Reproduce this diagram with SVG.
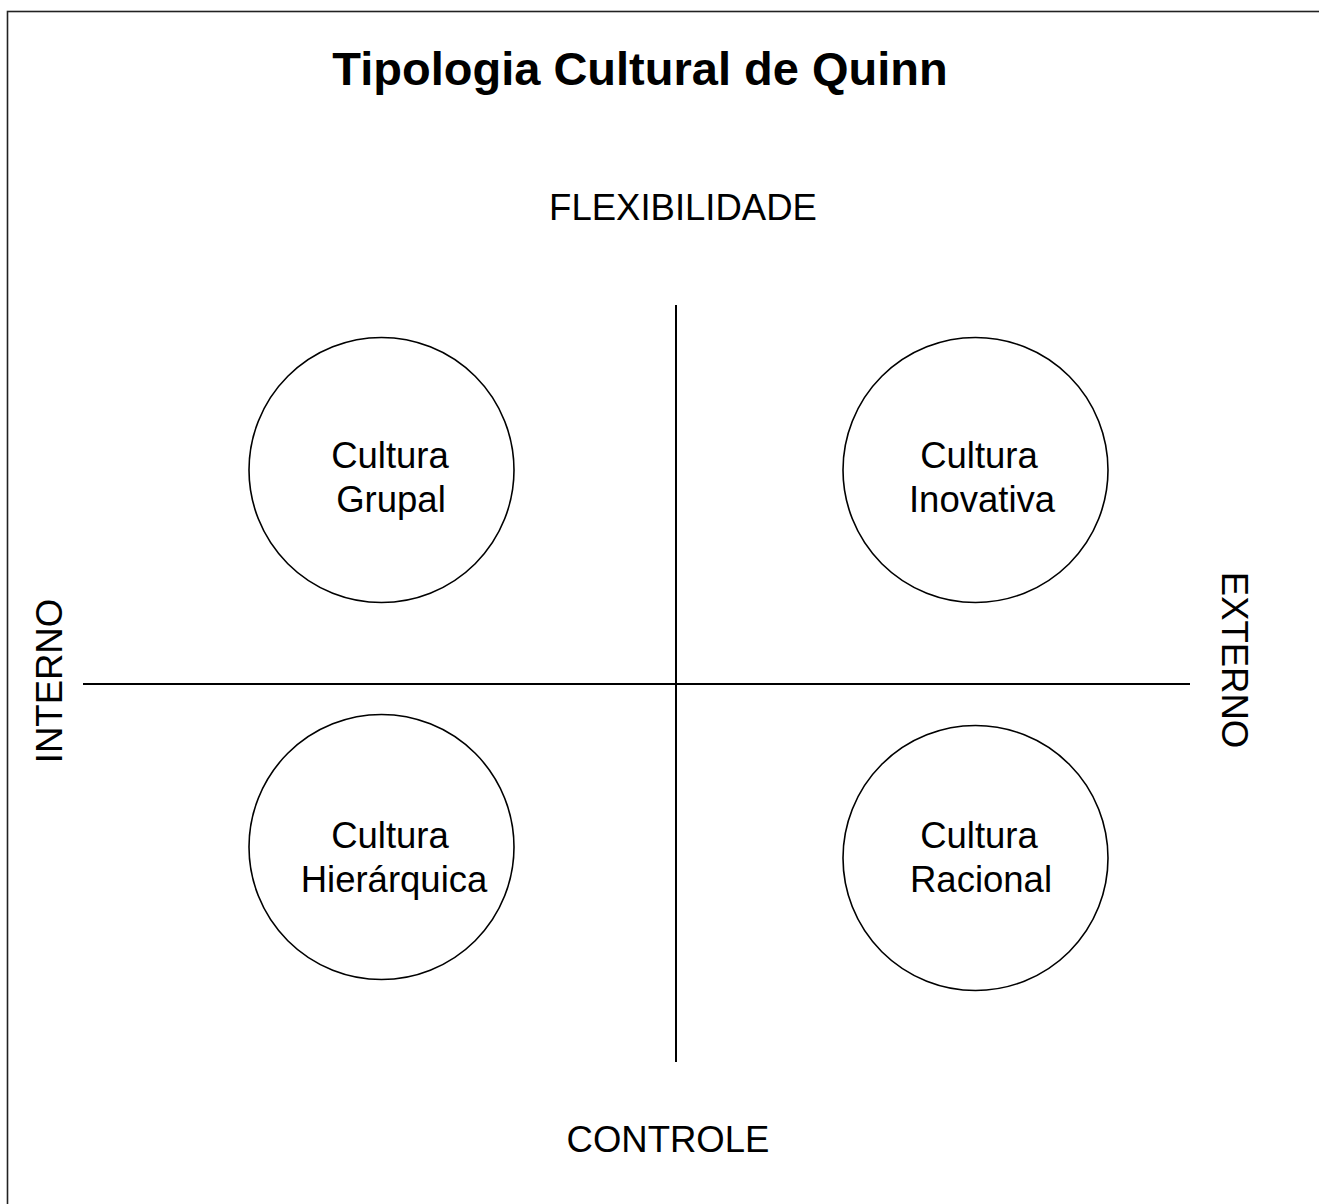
<svg xmlns="http://www.w3.org/2000/svg" width="1319" height="1204" viewBox="0 0 1319 1204">
<style>
text{font-family:"Liberation Sans",Arial,sans-serif;fill:#000;text-anchor:middle}
.t{font-size:36.5px}
.title{font-size:47px;font-weight:bold}
.c{fill:#fff;stroke:#000;stroke-width:1.6}
.ax{stroke:#000;stroke-width:2;fill:none}
</style>
<rect x="0" y="0" width="1319" height="1204" fill="#fff"/>
<rect x="7.5" y="11.5" width="1340" height="1230" fill="none" stroke="#222" stroke-width="1.6"/>
<text class="title" x="640" y="85">Tipologia Cultural de Quinn</text>
<g id="axes">
<line class="ax" x1="676" y1="305" x2="676" y2="1062"/>
<line class="ax" x1="83" y1="684" x2="1190" y2="684"/>
</g>
<g id="labels">
<text class="t" x="683" y="220">FLEXIBILIDADE</text>
<text class="t" x="668" y="1152">CONTROLE</text>
<text class="t" transform="translate(62,681) rotate(-90)">INTERNO</text>
<text class="t" transform="translate(1222,660) rotate(90)">EXTERNO</text>
</g>
<g id="grupal">
<circle class="c" cx="381.5" cy="470" r="132.5"/>
<text class="t" x="390" y="468">Cultura</text>
<text class="t" x="391" y="512">Grupal</text>
</g>
<g id="inovativa">
<circle class="c" cx="975.5" cy="470" r="132.5"/>
<text class="t" x="979" y="468">Cultura</text>
<text class="t" x="982" y="512">Inovativa</text>
</g>
<g id="hierarquica">
<circle class="c" cx="381.5" cy="847" r="132.5"/>
<text class="t" x="390" y="848">Cultura</text>
<text class="t" x="394" y="892">Hierárquica</text>
</g>
<g id="racional">
<circle class="c" cx="975.5" cy="858" r="132.5"/>
<text class="t" x="979" y="848">Cultura</text>
<text class="t" x="981" y="892">Racional</text>
</g>
</svg>
